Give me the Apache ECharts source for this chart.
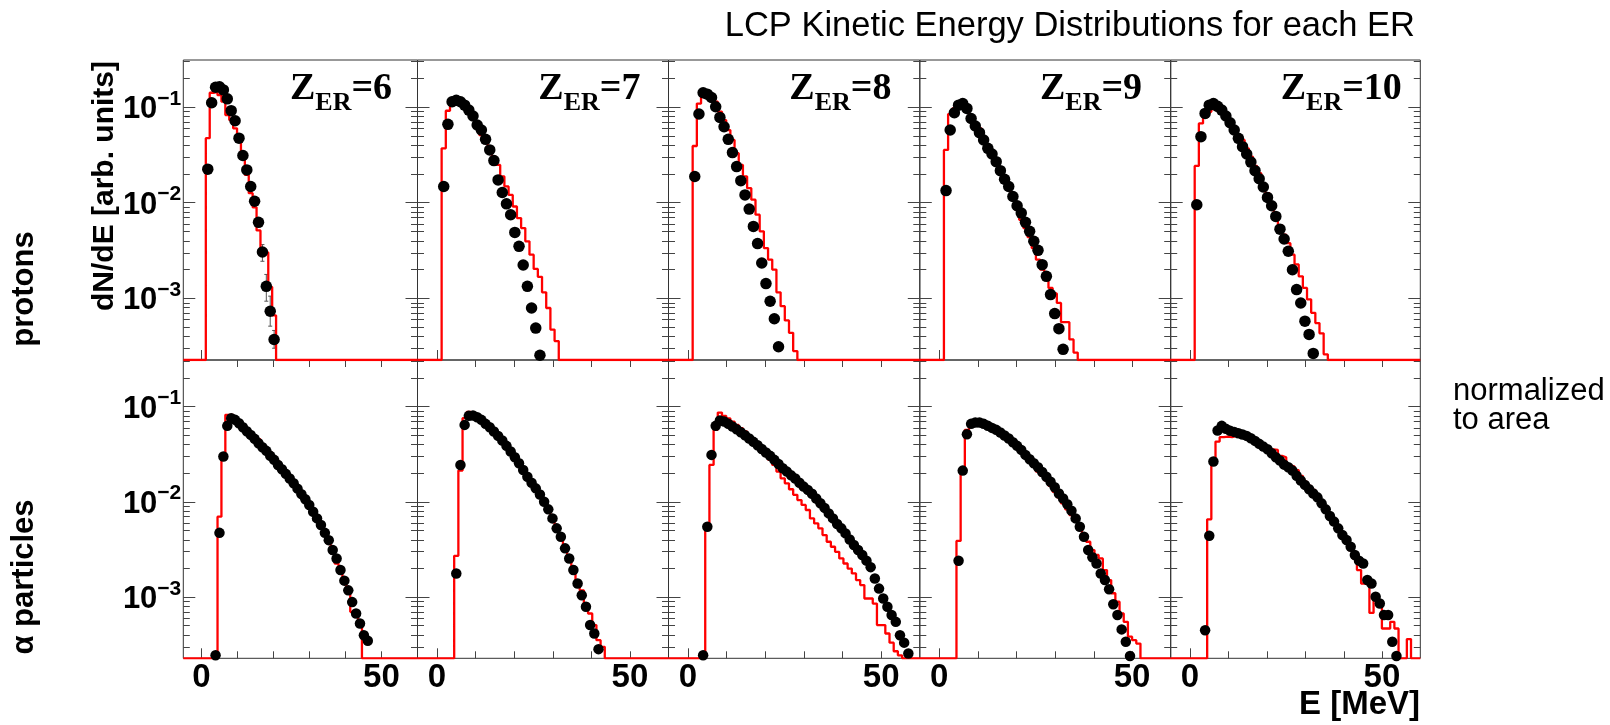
<!DOCTYPE html>
<html><head><meta charset="utf-8">
<script src="https://cdn.jsdelivr.net/npm/echarts@6/dist/echarts.min.js"></script>
<style>html,body{margin:0;padding:0;background:#fff}#c{width:1610px;height:725px}</style>
</head><body><div id="c"></div>
<script>
// ---------------- DATA ----------------
const zER = [6, 7, 8, 9, 10];
const X_MIN = -5, X_MAX = 60;
const Y_MIN = 2.26e-4, Y_MAX = 0.308;
const BIN_ORIGIN = 1.25, BIN_W = 1.0833;          // histogram binning (MeV)
const xLabelVals = [0, 50];
const yMajorTicks = [1e-3, 1e-2, 1e-1];
const yMinorTicks = [3e-4,4e-4,5e-4,6e-4,7e-4,8e-4,9e-4,2e-3,3e-3,4e-3,5e-3,6e-3,7e-3,8e-3,9e-3,
                     2e-2,3e-2,4e-2,5e-2,6e-2,7e-2,8e-2,9e-2,2e-1,3e-1];
const xTickVals = [0, 10, 20, 30, 40, 50];

// protons: first bin index of each series
const pHistStart = [0, 0, 0, 0, 0];
const pDotsStart = [0, 0, 0, 0, 0];
// alphas
const aHistStart = [3, 3, 3, 3, 3];
const aDotsStart = [2, 3, 2, 3, 2];

// protons, simulation (red histogram)
const pHist6 = [0.047,0.140,0.143,0.132,0.113,0.082,0.0726,0.0595,0.0487,0.0314,0.0194,0.0125,0.0089,0.0051,0.0030,0.0030,0.00131,0.00066];
const pHist7 = [0.0368,0.0908,0.104,0.1066,0.102,0.0961,0.0866,0.0755,0.0644,0.0507,0.045,0.0383,0.0301,0.0247,0.0187,0.0147,0.0120,0.00908,0.00687,0.0054,0.00393,0.00285,0.00202,0.00167,0.00115,0.00079,0.00047,0.000356];
const pHist8 = [0.0389,0.108,0.129,0.132,0.125,0.113,0.0887,0.0726,0.0571,0.045,0.0327,0.0247,0.0187,0.0141,0.0107,0.00745,0.00499,0.00334,0.00253,0.00199,0.00115,0.000826,0.000585,0.000435,0.00028];
const pHist9 = [0.0354,0.0839,0.0961,0.1016,0.0961,0.0887,0.0774,0.0670,0.0595,0.0468,0.0399,0.0314,0.0253,0.0199,0.0166,0.0136,0.0108,0.0084,0.0066,0.0054,0.00435,0.00334,0.00253,0.00199,0.00167,0.00128,0.00112,0.000893,0.000562,0.000562,0.000371,0.00027];
const pHist10 = [0.0241,0.067,0.0774,0.0887,0.0946,0.0946,0.0887,0.0787,0.0698,0.0609,0.0507,0.045,0.0368,0.0301,0.0241,0.0202,0.0159,0.0125,0.0098,0.00745,0.0058,0.0046,0.00376,0.00285,0.00225,0.00169,0.00128,0.00097,0.000703,0.00055,0.000429,0.000259];

// protons, data (black points)
const pDots6 = [0.0223,0.110,0.160,0.162,0.150,0.121,0.091,0.0715,0.047,0.031,0.0219,0.0147,0.0103,0.0062,0.00304,0.00133,0.00073,0.00037];
const pDots7 = [0.0147,0.0655,0.1127,0.117,0.1127,0.104,0.0923,0.080,0.0644,0.0571,0.0457,0.0354,0.0274,0.0172,0.0127,0.00968,0.00745,0.00487,0.00348,0.00222,0.00133,0.00079,0.000487,0.000253];
const pDots8 = [0.0187,0.0839,0.140,0.1355,0.125,0.100,0.0774,0.0619,0.0457,0.0332,0.0237,0.0169,0.0120,0.00853,0.00562,0.00372,0.00233,0.00142,0.00093,0.00061,0.000311];
const pDots9 = [0.0133,0.0571,0.0866,0.104,0.108,0.0961,0.0755,0.0629,0.0536,0.045,0.0368,0.0321,0.0267,0.0215,0.0175,0.0147,0.01155,0.00923,0.00774,0.0062,0.00499,0.00393,0.00316,0.00224,0.00169,0.00109,0.00069,0.00048,0.000292];
const pDots10 = [0.00946,0.0487,0.0852,0.104,0.108,0.101,0.0923,0.080,0.068,0.0571,0.0468,0.0383,0.0321,0.0264,0.0215,0.0177,0.0145,0.0113,0.00923,0.00715,0.00526,0.00415,0.00309,0.00198,0.00123,0.00089,0.000575,0.000418,0.000265];

// error bars of Z=6 proton points: [point index, low, high]
const pErr6 = [[14,0.00243,0.00363],[15,0.00093,0.00177],[16,0.00051,0.00105],[17,0.00030,0.00046]];

// alphas, simulation (red histogram)
const aHist6 = [0.00695,0.0298,0.0817,0.0817,0.0754,0.070,0.0641,0.0588,0.0533,0.0491,0.0453,0.040,0.0364,0.0328,0.0298,0.0264,0.0234,0.0207,0.0183,0.0162,0.0144,0.0127,0.0108,0.00945,0.00817,0.00695,0.00591,0.00483,0.00364,0.00286,0.00224,0.00191,0.00138,0.00108,0.000695,0.000616,0.000483];
const aHist7 = [0.0027,0.0212,0.0754,0.0880,0.0817,0.0766,0.0724,0.0668,0.0616,0.0559,0.0503,0.0453,0.040,0.035,0.0303,0.0264,0.0224,0.0191,0.0162,0.0135,0.0113,0.00945,0.00785,0.00641,0.00503,0.0041,0.00323,0.00264,0.00207,0.0015,0.00117,0.00085,0.000668,0.000505,0.00035,0.000298];
const aHist8 = [0.00546,0.0243,0.0568,0.0864,0.0798,0.0748,0.0695,0.0641,0.0592,0.0546,0.0476,0.0439,0.0379,0.035,0.0303,0.0275,0.0243,0.0207,0.0176,0.0156,0.0135,0.0118,0.0104,0.00923,0.00817,0.00667,0.00591,0.00524,0.00446,0.00379,0.00336,0.00297,0.00253,0.00224,0.00198,0.00176,0.0015,0.00133,0.00096,0.00096,0.00085,0.000505,0.000505,0.000412,0.00033,0.000268,0.000243];
const aHist9 = [0.00387,0.0207,0.0568,0.0657,0.0657,0.0636,0.0616,0.0596,0.0568,0.0541,0.0511,0.0479,0.0446,0.0411,0.0373,0.0336,0.0298,0.0264,0.0234,0.0207,0.0187,0.0167,0.0147,0.0127,0.0111,0.0096,0.0083,0.00724,0.00617,0.00535,0.00446,0.00379,0.0031,0.00275,0.00253,0.00191,0.0015,0.00109,0.000888,0.000668,0.000546,0.000381,0.00035,0.000323];
const aHist10 = [0.00652,0.0264,0.0428,0.0476,0.0483,0.0476,0.0491,0.0483,0.0491,0.0476,0.0461,0.0439,0.0418,0.0398,0.0379,0.0355,0.035,0.0303,0.0293,0.0243,0.0234,0.0215,0.0187,0.0162,0.0146,0.0133,0.0113,0.0100,0.00886,0.00724,0.00591,0.00524,0.00446,0.00371,0.0031,0.00253,0.00191,0.00138,0.00133,0.000677,0.00107,0.000822,0.000465,0.000465,0.000546,0.000465,0,0,0.00036];

// alphas, data (black points)
const aDots6 = [0.000243,0.0047,0.0298,0.0626,0.0754,0.0724,0.0668,0.0606,0.055,0.0503,0.0457,0.0411,0.0373,0.0342,0.0303,0.0275,0.0243,0.0219,0.0196,0.0175,0.0156,0.0137,0.0120,0.0106,0.00923,0.00785,0.00667,0.00568,0.0047,0.00394,0.0031,0.00253,0.00191,0.00148,0.00117,0.00088,0.000668,0.000524,0.000394,0.000345];
const aDots7 = [0.00176,0.0243,0.0641,0.0797,0.0804,0.0772,0.0724,0.0657,0.0606,0.0546,0.0491,0.0439,0.0386,0.0336,0.0293,0.0253,0.0215,0.0183,0.0158,0.0138,0.0119,0.0100,0.0083,0.00667,0.00524,0.00428,0.00323,0.00253,0.00191,0.00138,0.00104,0.000785,0.000505,0.000412,0.000282];
const aDots8 = [0.000243,0.00546,0.0310,0.0626,0.0712,0.0695,0.0657,0.0616,0.0577,0.0537,0.0499,0.0461,0.0425,0.0392,0.0358,0.0328,0.0303,0.0275,0.0249,0.0224,0.0207,0.0189,0.0175,0.0158,0.0144,0.0133,0.0121,0.0108,0.00963,0.0086,0.00753,0.00667,0.00582,0.00524,0.00464,0.00401,0.0035,0.0031,0.00275,0.0024,0.00205,0.00156,0.00122,0.00096,0.000785,0.000643,0.000546,0.000394,0.00033,0.000254];
const aDots9 = [0.00239,0.0212,0.0512,0.0657,0.0678,0.0678,0.0657,0.0626,0.0596,0.0568,0.0533,0.0495,0.0461,0.0421,0.0386,0.035,0.031,0.0279,0.0253,0.023,0.0205,0.0183,0.0162,0.0142,0.0122,0.0108,0.00939,0.00805,0.00667,0.00546,0.00428,0.0031,0.00261,0.00224,0.00176,0.0015,0.0012,0.000835,0.000643,0.000455,0.000338,0.000239];
const aDots10 = [0.000446,0.00439,0.0264,0.0559,0.0626,0.0582,0.0555,0.0541,0.0524,0.0507,0.0491,0.0464,0.0435,0.0405,0.0379,0.0355,0.0323,0.0293,0.0270,0.0245,0.0230,0.0212,0.0187,0.0167,0.0150,0.0135,0.0122,0.0111,0.0096,0.0083,0.00706,0.00617,0.00524,0.00446,0.00395,0.00336,0.00275,0.0024,0.00224,0.0015,0.00138,0.001,0.00085,0.000643,0.000643,0.000338,0.000239];

// ---------------- LAYOUT ----------------
const COL_L = [183.3, 417.5, 668.5, 919.8, 1170.7];
const COL_R = [417.5, 668.5, 919.8, 1170.7, 1420.3];
const ROW_T = [60, 360];
const ROW_H = [300, 298.3];
const Z_LEFT = [290, 538.3, 789.3, 1040, 1280.7];
const SANS = 'Liberation Sans', SERIF = 'Liberation Serif';
const FRAME = '#333333', TICK = '#444444';

const protonHist = [pHist6, pHist7, pHist8, pHist9, pHist10];
const protonDots = [pDots6, pDots7, pDots8, pDots9, pDots10];
const alphaHist = [aHist6, aHist7, aHist8, aHist9, aHist10];
const alphaDots = [aDots6, aDots7, aDots8, aDots9, aDots10];

function binCenter(k) { return BIN_ORIGIN + (k + 0.5) * BIN_W; }
function binEdge(k) { return BIN_ORIGIN + k * BIN_W; }
function dotsData(start, vals) { return vals.map((v, i) => [binCenter(start + i), v]); }
function histData(start, vals) {
  const pts = [[X_MIN, Y_MIN]];
  vals.forEach((v, i) => pts.push([binEdge(start + i), v > 0 ? v : Y_MIN]));
  pts.push([binEdge(start + vals.length), Y_MIN]);
  pts.push([X_MAX, Y_MIN]);
  return pts;
}

function tickRenderer(row) {
  return function (params, api) {
    const cs = params.coordSys;
    const xl = cs.x, xr = cs.x + cs.width, yt = cs.y, yb = cs.y + cs.height;
    const ch = [];
    const line = (x1, y1, x2, y2) => ch.push({ type: 'line', shape: { x1, y1, x2, y2 },
      style: { stroke: TICK, lineWidth: 1 } });
    yMajorTicks.forEach(v => { const y = Math.round(api.coord([0, v])[1]) + 0.5;
      line(xl, y, xl + 12, y); line(xr, y, xr - 12, y); });
    yMinorTicks.forEach(v => { const y = Math.round(api.coord([0, v])[1]) + 0.5;
      if (y > yt + 1 && y < yb - 1) { line(xl, y, xl + 6.5, y); line(xr, y, xr - 6.5, y); } });
    xTickVals.forEach(v => { const x = Math.round(api.coord([v, 0.01])[0]) + 0.5;
      if (row === 0) { if (v === 0) line(x, yb, x, yb - 10); }
      else { line(x, yb, x, yb - (v === 0 ? 10 : 7)); if (v > 0) line(x, yt, x, yt + 7); } });
    return { type: 'group', children: ch };
  };
}

const grids = [], xAxes = [], yAxes = [], series = [];
for (let r = 0; r < 2; r++) {
  for (let c = 0; c < 5; c++) {
    const g = r * 5 + c;
    grids.push({ left: COL_L[c], top: ROW_T[r], width: COL_R[c] - COL_L[c], height: ROW_H[r],
      show: true, borderColor: FRAME, borderWidth: 1, backgroundColor: 'transparent',
      containLabel: false, outerBoundsMode: 'none' });
    xAxes.push({ gridIndex: g, type: 'value', min: X_MIN, max: X_MAX, interval: 5,
      axisLine: { show: false }, axisTick: { show: false }, splitLine: { show: false },
      axisLabel: r === 1 ? { show: true, margin: 3, color: '#000', fontFamily: SANS, fontWeight: 'bold', fontSize: 33,
        formatter: v => xLabelVals.some(t => Math.abs(t - v) < 1e-9) ? String(Math.round(v)) : '' } : { show: false } });
    yAxes.push({ gridIndex: g, type: 'log', logBase: 10, min: Y_MIN, max: Y_MAX,
      axisLine: { show: false }, axisTick: { show: false }, splitLine: { show: false }, minorTick: { show: false },
      axisLabel: c === 0 ? { show: true, margin: 2, padding: [5, 0, 0, 0],
        formatter: v => { const e = Math.log10(v), k = Math.round(e);
          if (Math.abs(e - k) > 1e-6) return '';
          return '{b|10}{s|' + (k < 0 ? '\u2212' + (-k) : k) + '}'; },
        rich: { b: { fontSize: 31, fontWeight: 'bold', fontFamily: SANS, color: '#000', lineHeight: 42 },
                s: { fontSize: 21, fontWeight: 'bold', fontFamily: SANS, color: '#000', lineHeight: 21, verticalAlign: 'top' } } }
        : { show: false } });
    series.push({ type: 'custom', xAxisIndex: g, yAxisIndex: g, data: [[0, 0.01]], renderItem: tickRenderer(r),
      silent: true, z: 1, animation: false });
    const hist = r === 0 ? histData(pHistStart[c], protonHist[c]) : histData(aHistStart[c], alphaHist[c]);
    const dots = r === 0 ? dotsData(pDotsStart[c], protonDots[c]) : dotsData(aDotsStart[c], alphaDots[c]);
    series.push({ type: 'line', xAxisIndex: g, yAxisIndex: g, data: hist, step: 'end', symbol: 'none',
      lineStyle: { color: '#ff0000', width: 2.3 }, z: 3, animation: false, clip: true, silent: true });
    if (r === 0 && c === 0) {
      series.push({ type: 'custom', xAxisIndex: g, yAxisIndex: g, z: 3, animation: false, silent: true,
        data: pErr6.map(e => [binCenter(pDotsStart[0] + e[0]), e[1], e[2]]),
        renderItem: (params, api) => {
          const p1 = api.coord([api.value(0), api.value(1)]), p2 = api.coord([api.value(0), api.value(2)]);
          const st = { stroke: '#555', lineWidth: 1 };
          return { type: 'group', children: [
            { type: 'line', shape: { x1: p1[0], y1: p1[1], x2: p2[0], y2: p2[1] }, style: st },
            { type: 'line', shape: { x1: p1[0] - 2, y1: p1[1], x2: p1[0] + 2, y2: p1[1] }, style: st },
            { type: 'line', shape: { x1: p2[0] - 2, y1: p2[1], x2: p2[0] + 2, y2: p2[1] }, style: st } ] };
        } });
    }
    series.push({ type: 'scatter', xAxisIndex: g, yAxisIndex: g, data: dots, symbol: 'circle',
      symbolSize: r === 0 ? 11.5 : 10.5, itemStyle: { color: '#000', opacity: 1 }, z: 4, animation: false, silent: true });
  }
}

// text measuring for the Z_ER labels
const mctx = document.createElement('canvas').getContext('2d');
function tw(t, size, weight, fam) { mctx.font = weight + ' ' + size + 'px "' + fam + '"'; return mctx.measureText(t).width; }

const graphics = [
  { type: 'text', x: 1415, y: 26.5, style: { text: 'LCP Kinetic Energy Distributions for each ER', fontSize: 34.5, fontFamily: SANS,
      fill: '#000', align: 'right', verticalAlign: 'middle' } },
  { type: 'text', x: 1453, y: 391, style: { text: 'normalized', fontSize: 31, fontFamily: SANS, fill: '#000', align: 'left', verticalAlign: 'middle' } },
  { type: 'text', x: 1453, y: 420.3, style: { text: 'to area', fontSize: 31, fontFamily: SANS, fill: '#000', align: 'left', verticalAlign: 'middle' } },
  { type: 'text', x: 1420, y: 705, style: { text: 'E [MeV]', fontSize: 33, fontWeight: 'bold', fontFamily: SANS, fill: '#000', align: 'right', verticalAlign: 'middle' } },
  { type: 'text', x: 104.5, y: 186, rotation: Math.PI / 2, style: { text: 'dN/dE [arb. units]', fontSize: 30, fontWeight: 'bold', fontFamily: SANS,
      fill: '#000', align: 'center', verticalAlign: 'middle' } },
  { type: 'text', x: 24.5, y: 289, rotation: Math.PI / 2, style: { text: 'protons', fontSize: 31, fontWeight: 'bold', fontFamily: SANS,
      fill: '#000', align: 'center', verticalAlign: 'middle' } },
  { type: 'text', x: 24.5, y: 577, rotation: Math.PI / 2, style: { text: '\u03b1 particles', fontSize: 31, fontWeight: 'bold', fontFamily: SANS,
      fill: '#000', align: 'center', verticalAlign: 'middle' } }
];
zER.forEach((z, c) => {
  const x0 = Z_LEFT[c];
  const wZ = tw('Z', 38, 'bold', SERIF), wER = tw('ER', 26, 'bold', SERIF);
  graphics.push({ type: 'text', x: x0, y: 88.8, style: { text: 'Z', fontSize: 38, fontWeight: 'bold', fontFamily: SERIF, fill: '#000', align: 'left', verticalAlign: 'middle' } });
  graphics.push({ type: 'text', x: x0 + wZ, y: 102.9, style: { text: 'ER', fontSize: 26, fontWeight: 'bold', fontFamily: SERIF, fill: '#000', align: 'left', verticalAlign: 'middle' } });
  graphics.push({ type: 'text', x: x0 + wZ + wER, y: 88.8, style: { text: '=' + z, fontSize: 38, fontWeight: 'bold', fontFamily: SERIF, fill: '#000', align: 'left', verticalAlign: 'middle' } });
});

const chart = echarts.init(document.getElementById('c'), null, { renderer: 'canvas' });
chart.setOption({
  backgroundColor: '#ffffff',
  animation: false,
  grid: grids, xAxis: xAxes, yAxis: yAxes, series: series,
  graphic: graphics
});
</script></body></html>
